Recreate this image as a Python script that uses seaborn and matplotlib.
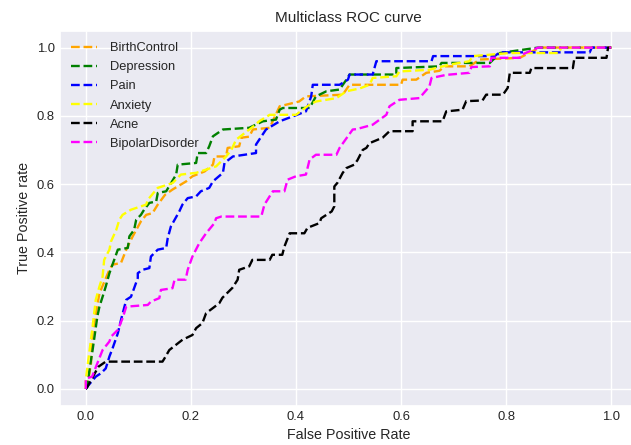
import numpy as np
import pandas as pd
import matplotlib
matplotlib.use("Agg")
import matplotlib.pyplot as plt
import seaborn as sns

classes = ["BirthControl", "Depression", "Pain", "Anxiety", "Acne", "BipolarDisorder"]
colors = ["orange", "green", "blue", "yellow", "black", "magenta"]

fpr_birthcontrol = [0, 0.003, 0.01, 0.013, 0.026, 0.037, 0.045, 0.051, 0.067, 0.077, 0.089, 0.105, 0.115, 0.127, 0.137, 0.151, 0.165, 0.191, 0.203, 0.226, 0.242, 0.245, 0.267, 0.27, 0.292, 0.296, 0.311, 0.318, 0.35, 0.369, 0.406, 0.419, 0.489, 0.502, 0.60, 0.603, 0.629, 0.648, 0.673, 0.683, 0.73, 0.75, 0.826, 0.864, 1.0]
tpr_birthcontrol = [0, 0.009, 0.075, 0.168, 0.28, 0.32, 0.349, 0.364, 0.369, 0.408, 0.446, 0.491, 0.51, 0.515, 0.54, 0.569, 0.584, 0.608, 0.623, 0.637, 0.657, 0.681, 0.681, 0.706, 0.711, 0.736, 0.739, 0.76, 0.765, 0.828, 0.842, 0.857, 0.862, 0.891, 0.891, 0.906, 0.906, 0.926, 0.932, 0.945, 0.945, 0.965, 0.97, 1.0, 1.0]

fpr_depression = [0, 0.003, 0.007, 0.013, 0.022, 0.026, 0.032, 0.038, 0.045, 0.061, 0.08, 0.083, 0.092, 0.096, 0.105, 0.111, 0.121, 0.134, 0.137, 0.153, 0.172, 0.175, 0.21, 0.213, 0.229, 0.235, 0.242, 0.261, 0.311, 0.337, 0.362, 0.369, 0.375, 0.426, 0.438, 0.458, 0.483, 0.496, 0.502, 0.591, 0.591, 0.673, 0.677, 0.769, 0.788, 0.861, 1.0]
tpr_depression = [0, 0.007, 0.056, 0.114, 0.212, 0.241, 0.27, 0.30, 0.339, 0.408, 0.413, 0.447, 0.466, 0.496, 0.51, 0.525, 0.545, 0.549, 0.574, 0.579, 0.628, 0.657, 0.662, 0.691, 0.691, 0.711, 0.74, 0.76, 0.765, 0.784, 0.789, 0.818, 0.823, 0.823, 0.857, 0.872, 0.877, 0.906, 0.921, 0.921, 0.94, 0.945, 0.955, 0.955, 0.984, 1.0, 1.0]

fpr_pain = [0, 0.003, 0.019, 0.029, 0.038, 0.045, 0.051, 0.061, 0.067, 0.077, 0.086, 0.092, 0.099, 0.099, 0.108, 0.121, 0.124, 0.137, 0.153, 0.156, 0.162, 0.178, 0.184, 0.194, 0.21, 0.219, 0.235, 0.242, 0.261, 0.264, 0.28, 0.324, 0.324, 0.343, 0.369, 0.419, 0.429, 0.432, 0.483, 0.499, 0.502, 0.546, 0.553, 0.658, 0.661, 0.778, 0.788, 0.959, 0.963, 1.0]
tpr_pain = [0, 0.007, 0.036, 0.046, 0.06, 0.095, 0.119, 0.163, 0.202, 0.261, 0.27, 0.295, 0.325, 0.339, 0.349, 0.354, 0.388, 0.408, 0.413, 0.442, 0.476, 0.52, 0.54, 0.559, 0.564, 0.579, 0.589, 0.608, 0.633, 0.662, 0.681, 0.691, 0.716, 0.76, 0.784, 0.813, 0.857, 0.891, 0.891, 0.906, 0.921, 0.921, 0.96, 0.96, 0.975, 0.975, 0.986, 0.986, 1.0, 1.0]

fpr_anxiety = [0, 0.0, 0.013, 0.019, 0.026, 0.032, 0.035, 0.045, 0.048, 0.058, 0.064, 0.07, 0.086, 0.115, 0.118, 0.137, 0.165, 0.181, 0.21, 0.248, 0.267, 0.277, 0.286, 0.318, 0.33, 0.35, 0.40, 0.426, 0.438, 0.477, 0.496, 0.521, 0.54, 0.546, 0.591, 0.597, 0.654, 0.692, 0.73, 0.737, 0.807, 0.90, 0.905, 1.0]
tpr_anxiety = [0, 0.026, 0.183, 0.261, 0.30, 0.329, 0.378, 0.408, 0.432, 0.466, 0.496, 0.51, 0.525, 0.54, 0.554, 0.589, 0.603, 0.628, 0.633, 0.652, 0.681, 0.70, 0.73, 0.768, 0.784, 0.803, 0.803, 0.833, 0.842, 0.852, 0.872, 0.88, 0.891, 0.911, 0.916, 0.93, 0.935, 0.95, 0.96, 0.975, 0.984, 0.984, 1.0, 1.0]

fpr_acne = [0, 0.003, 0.024, 0.038, 0.146, 0.15, 0.159, 0.184, 0.203, 0.21, 0.222, 0.229, 0.242, 0.254, 0.26, 0.279, 0.289, 0.292, 0.311, 0.317, 0.35, 0.355, 0.374, 0.378, 0.388, 0.416, 0.422, 0.445, 0.448, 0.468, 0.473, 0.473, 0.479, 0.489, 0.496, 0.511, 0.517, 0.527, 0.534, 0.54, 0.565, 0.578, 0.622, 0.622, 0.679, 0.686, 0.717, 0.724, 0.755, 0.762, 0.794, 0.803, 0.807, 0.845, 0.848, 0.927, 0.93, 0.991, 0.994, 1.0]
tpr_acne = [0, 0.006, 0.065, 0.08, 0.08, 0.09, 0.114, 0.144, 0.158, 0.178, 0.193, 0.222, 0.237, 0.251, 0.267, 0.296, 0.32, 0.349, 0.359, 0.378, 0.378, 0.393, 0.393, 0.417, 0.456, 0.456, 0.472, 0.486, 0.50, 0.52, 0.535, 0.593, 0.604, 0.633, 0.647, 0.657, 0.67, 0.70, 0.706, 0.72, 0.736, 0.755, 0.755, 0.784, 0.784, 0.813, 0.818, 0.843, 0.845, 0.862, 0.862, 0.882, 0.926, 0.926, 0.94, 0.94, 0.97, 0.97, 1.0, 1.0]

fpr_bipolar = [0, 0.0, 0.012, 0.032, 0.045, 0.048, 0.061, 0.07, 0.077, 0.118, 0.124, 0.14, 0.143, 0.165, 0.169, 0.19, 0.194, 0.203, 0.216, 0.229, 0.245, 0.248, 0.258, 0.334, 0.34, 0.356, 0.378, 0.384, 0.40, 0.419, 0.426, 0.438, 0.477, 0.483, 0.508, 0.515, 0.546, 0.572, 0.578, 0.597, 0.635, 0.654, 0.658, 0.686, 0.73, 0.734, 0.769, 0.772, 0.826, 0.831, 0.861, 1.0]
tpr_bipolar = [0, 0.03, 0.036, 0.114, 0.139, 0.153, 0.173, 0.207, 0.241, 0.246, 0.256, 0.266, 0.29, 0.295, 0.32, 0.32, 0.349, 0.388, 0.427, 0.456, 0.486, 0.50, 0.505, 0.505, 0.54, 0.579, 0.579, 0.613, 0.623, 0.628, 0.672, 0.686, 0.686, 0.706, 0.76, 0.761, 0.774, 0.803, 0.828, 0.847, 0.852, 0.886, 0.911, 0.92, 0.926, 0.943, 0.945, 0.97, 0.97, 0.98, 1.0, 1.0]

fprs = [fpr_birthcontrol, fpr_depression, fpr_pain, fpr_anxiety, fpr_acne, fpr_bipolar]
tprs = [tpr_birthcontrol, tpr_depression, tpr_pain, tpr_anxiety, tpr_acne, tpr_bipolar]

sns.set_theme(style="darkgrid")
plt.rcParams["font.family"] = ["Liberation Sans", "DejaVu Sans"]

fig = plt.figure(figsize=(6.31, 4.45), dpi=100)
W, H = 631, 445
ax = fig.add_axes([59.5 / W, (H - 406) / H, (637.5 - 59.5) / W, (406 - 30.5) / H])

for name, col, f, t in zip(classes, colors, fprs, tprs):
    df = pd.DataFrame({"fpr": f, "tpr": t})
    sns.lineplot(data=df, x="fpr", y="tpr", sort=False, estimator=None, color=col,
                 linestyle="--", linewidth=1.7, label=name, ax=ax)

ax.set_xlim(-0.05, 1.05)
ax.set_ylim(-0.05, 1.05)
ax.set_xticks([0, 0.2, 0.4, 0.6, 0.8, 1.0])
ax.set_yticks([0, 0.2, 0.4, 0.6, 0.8, 1.0])
ax.tick_params(labelsize=9.4, colors="#262626", length=0)
ax.set_title("Multiclass ROC curve", fontsize=11, color="#262626")
ax.set_xlabel("False Positive Rate", fontsize=10.3, color="#262626")
ax.set_ylabel("True Positive rate", fontsize=10.3, color="#262626")
leg = ax.legend(loc="upper left", frameon=False, fontsize=9.3, handlelength=2.0,
                handletextpad=1.0, labelspacing=0.55, borderaxespad=0.5)

fig.savefig("out.png", dpi=100)
